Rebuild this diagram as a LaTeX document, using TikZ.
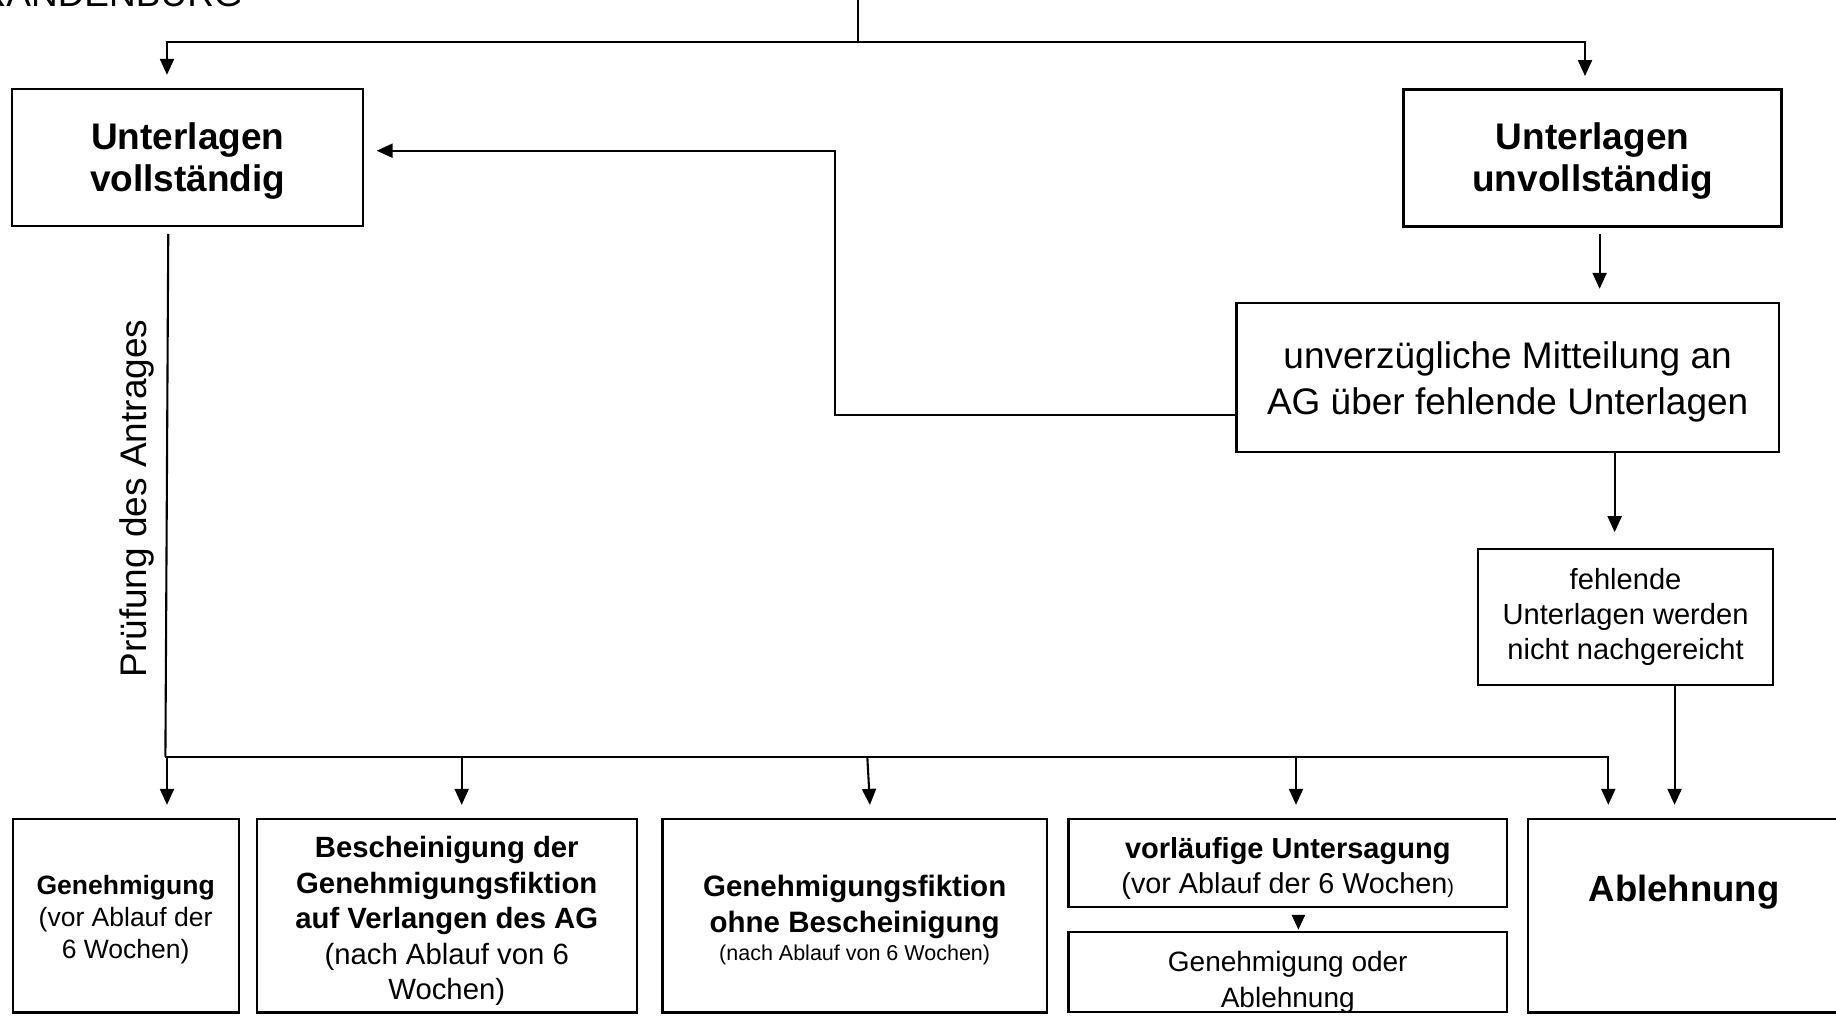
\documentclass[tikz,border=0pt]{standalone}
\usepackage{fontspec}
\setmainfont{Liberation Sans}
\usetikzlibrary{arrows.meta}
\newcommand{\fsz}[2]{\fontsize{#1}{#2}\selectfont}
\begin{document}
\begin{tikzpicture}[x=1pt,y=-1pt,
  box/.style={draw, line width=2.3pt, inner sep=0pt},
  conn/.style={line width=2.1pt},
  arr/.style={line width=2.1pt, -{Triangle[length=16pt,width=14pt]}},
  txt/.style={inner sep=0pt, align=center},
]
\useasboundingbox (0,0) rectangle (1836,1017);

% header fragment
\node[txt, anchor=base east, font=\fsz{37}{41}] (hdr) at (243,6) {RANDENBURG};

% boxes
\node[box, minimum width=351pt, minimum height=136.4pt] (vollst) at (187.8,157.5) {};
\node[box, minimum width=378pt, minimum height=137pt] (unvoll) at (1592.6,158) {};
\node[box, minimum width=542.3pt, minimum height=149.6pt] (mitt) at (1507.65,377.5) {};
\node[box, minimum width=294.5pt, minimum height=135.7pt] (fehl) at (1625.55,616.85) {};
\node[box, minimum width=226pt, minimum height=193.5pt] (gen) at (125.65,915.75) {};
\node[box, minimum width=380pt, minimum height=193.5pt] (besch) at (446.75,915.75) {};
\node[box, minimum width=384.5pt, minimum height=193.5pt] (fikt) at (854.65,915.75) {};
\node[box, minimum width=438.3pt, minimum height=88.3pt] (vorl) at (1287.75,863.15) {};
\node[box, minimum width=438.3pt, minimum height=79.4pt] (geab) at (1287.75,972) {};
\node[box, minimum width=311.8pt, minimum height=193.5pt] (abl) at (1684.1,915.75) {};

% texts of the boxes
\node[txt, font=\fsz{37}{41.5}\bfseries] (vollT) at (187.8,161) {Unterlagen\\vollständig};
\node[txt, font=\fsz{37}{41.5}\bfseries] (unvollT) at (1592.6,161) {Unterlagen\\unvollständig};
\node[txt, font=\fsz{37}{46}] (mittT) at (1507.65,382) {unverzügliche Mitteilung an\\AG über fehlende Unterlagen};
\node[txt, font=\fsz{29.1}{35}] (fehlT) at (1625.55,616.85) {fehlende\\Unterlagen werden\\nicht nachgereicht};
\node[txt, font=\fsz{26.5}{32}] (genT) at (125.65,919.5) {\textbf{Genehmigung}\\(vor Ablauf der\\6 Wochen)};
\node[txt, font=\fsz{29.3}{35.5}] (beschT) at (446.75,921) {\textbf{Bescheinigung der}\\\textbf{Genehmigungsfiktion}\\\textbf{auf Verlangen des AG}\\(nach Ablauf von 6\\Wochen)};
\node[txt, anchor=base, font=\fsz{29.5}{36}\bfseries] (fiktA) at (854.65,896.5) {Genehmigungsfiktion};
\node[txt, anchor=base, font=\fsz{29.5}{36}\bfseries] (fiktB) at (854.65,932.5) {ohne Bescheinigung};
\node[txt, anchor=base, font=\fsz{21.5}{26}] (fiktC) at (854.65,960) {(nach Ablauf von 6 Wochen)};
\node[txt, anchor=base, font=\fsz{29}{32}\bfseries] (vorlA) at (1287.75,858) {vorläufige Untersagung};
\node[txt, anchor=base, font=\fsz{28.8}{32}] (vorlB) at (1287.75,893) {(vor Ablauf der 6 Wochen{\fsz{20}{20})}};
\node[txt, anchor=base, font=\fsz{28}{35}] (geabA) at (1287.75,971.5) {Genehmigung oder};
\node[txt, anchor=base, font=\fsz{28}{35}] (geabB) at (1287.75,1007) {Ablehnung};
\node[txt, anchor=base, font=\fsz{36.5}{40}\bfseries] (ablT) at (1684.1,901) {Ablehnung};

% rotated label
\node[txt, rotate=90, font=\fsz{37}{41}] (pruef) at (137.3,498.5) {Prüfung des Antrages};

% top distribution
\coordinate (stemtop) at (858.4,-3);
\coordinate (fork) at (858.4,41.7);
\draw[conn] (stemtop) -- (fork);
\draw[arr, shorten >=13.3pt] (fork) -| ([xshift=-20.8pt]vollst.north);
\draw[arr, shorten >=12.3pt] (fork) -| ([xshift=-7.6pt]unvoll.north);

% right column
\draw[arr, shorten <=6.6pt, shorten >=12.7pt] ([xshift=7pt]unvoll.south) -- ([xshift=7pt]unvoll.south |- mitt.north);
\coordinate (bend) at (835,150.7);
\draw[arr, shorten >=12.2pt] ([yshift=-37.5pt]mitt.west) -| (bend) -- ([yshift=6.8pt]vollst.east);
\draw[arr, shorten >=15.7pt] ([xshift=107pt]mitt.south) -- ([xshift=107pt]mitt.south |- fehl.north);
\draw[arr, shorten >=13pt] ([xshift=49pt]fehl.south) -- ([xshift=49pt]fehl.south |- abl.north);

% bottom distribution
\coordinate (bus0) at (165.4,756.7);
\draw[conn, shorten <=7pt] ([xshift=-19.5pt]vollst.south) -- (bus0);
\draw[arr, shorten >=13pt] (bus0) -| ([xshift=-75.8pt]abl.north);
\draw[arr, shorten >=13pt] ([xshift=41.35pt]gen.north |- bus0) -- ([xshift=41.35pt]gen.north);
\draw[arr, shorten >=13pt] ([xshift=14.95pt]besch.north |- bus0) -- ([xshift=14.95pt]besch.north);
\draw[arr, shorten >=13pt] ([xshift=12.65pt]fikt.north |- bus0) -- ([xshift=16pt]fikt.north);
\draw[arr, shorten >=13pt] ([xshift=8.25pt]vorl.north |- bus0) -- ([xshift=8.25pt]vorl.north);

% small triangle between the two stacked boxes
\draw[line width=1.6pt, -{Triangle[length=14.7pt,width=13.3pt]}, shorten <=8.7pt, shorten >=1.6pt] ([xshift=10.65pt]vorl.south) -- ([xshift=10.65pt]geab.north);
\end{tikzpicture}
\end{document}
